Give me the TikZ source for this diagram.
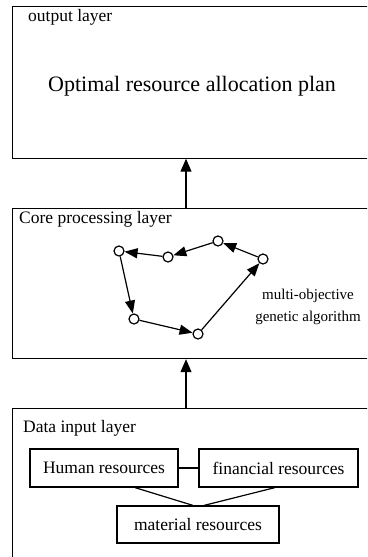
\documentclass[tikz,border=0pt]{standalone}
\usepackage{fontspec}
\setmainfont{Liberation Serif}
\usetikzlibrary{arrows.meta,calc}
\begin{document}
\begin{tikzpicture}[x=1pt,y=-1pt,
  layer/.style={draw,line width=1.2pt,anchor=north west,inner sep=0pt},
  lbl/.style={anchor=west,inner sep=0pt,font=\fontsize{17.5}{21}\selectfont},
  res/.style={draw,line width=1.2pt,inner sep=0pt,font=\fontsize{17.5}{21}\selectfont},
  pt/.style={circle,draw,line width=1.2pt,fill=white,minimum size=10pt,inner sep=0pt},
  ga/.style={line width=1.2pt,-{Triangle[length=13pt,width=10pt]}},
  up/.style={line width=1.2pt,-{Triangle[length=13pt,width=11pt]}}]
\useasboundingbox (0,0) rectangle (367,557);
\clip (0,0) rectangle (367,557);
% layers
\node[layer,minimum width=362pt,minimum height=151.5pt] (out) at (12,6) {};
\node[layer,minimum width=362pt,minimum height=150pt] (core) at (12,208) {};
\node[layer,minimum width=362pt,minimum height=160pt] (data) at (12,408) {};
\node[lbl] (outl) at (28,17) {output layer};
\node[lbl] (corel) at (19,219) {Core processing layer};
\node[lbl] (datal) at (23,428) {Data input layer};
\node[inner sep=0pt,font=\fontsize{22}{26}\selectfont] (plan) at (192,86) {Optimal resource allocation plan};
% arrows between layers
\draw[up] (core.north -| 186,0) -- (out.south -| 186,0);
\draw[up] (data.north -| 186,0) -- (core.south -| 186,0);
% GA loop
\node[pt] (p1) at (119,251) {};
\node[pt] (p2) at (168,257) {};
\node[pt] (p3) at (218,241) {};
\node[pt] (p4) at (263,259) {};
\node[pt] (p5) at (198,334) {};
\node[pt] (p6) at (134,319) {};
\draw[ga] (p3) -- (p2);
\draw[ga] (p2) -- (p1);
\draw[ga] (p1) -- (p6);
\draw[ga] (p6) -- (p5);
\draw[ga] (p5) -- (p4);
\draw[ga] (p4) -- (p3);
\node[align=center,inner sep=0pt,font=\fontsize{15}{22}\selectfont] (gal) at (308,307) {multi-objective\\genetic algorithm};
% resources
\node[res,minimum width=148pt,minimum height=38pt] (hum) at (104,468) {Human resources};
\node[res,minimum width=159pt,minimum height=38pt] (fin) at (278.5,468) {financial resources};
\node[res,minimum width=162pt,minimum height=37pt] (mat) at (198,524.5) {material resources};
\draw[line width=1.2pt] (hum.east) -- (fin.west);
\draw[line width=1.2pt] ([xshift=31pt]hum.south) -- ([xshift=-5pt]mat.north);
\draw[line width=1.2pt] ([xshift=-3.5pt]fin.south) -- ([xshift=6pt]mat.north);
\end{tikzpicture}
\end{document}
